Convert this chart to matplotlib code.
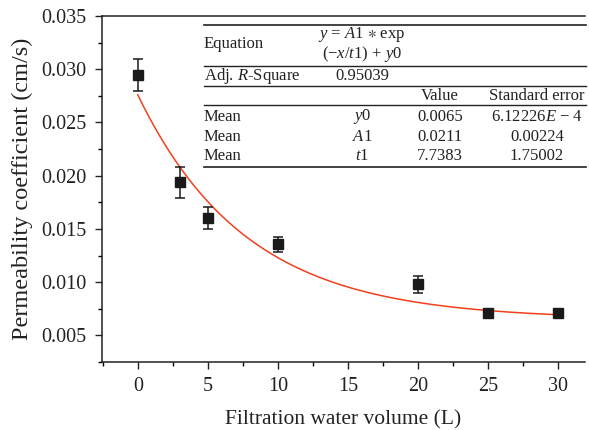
import numpy as np
import matplotlib
matplotlib.use('Agg')
import matplotlib.pyplot as plt
from matplotlib.lines import Line2D
from matplotlib.ticker import MultipleLocator

# measured data
volume = [0, 3, 5, 10, 20, 25, 30]
perm = [0.02945, 0.01940, 0.01600, 0.01355, 0.00980, 0.00710, 0.00710]
perm_err = [0.00150, 0.00145, 0.00105, 0.00070, 0.00080, 0.00010, 0.00010]

# fit parameters  y = A1*exp(-x/t1) + y0
y0 = 0.0065
A1 = 0.0211
t1 = 7.7383

table_rows = [("Mean", "$y0$", "0.0065", "6.12226$E$ − 4"),
              ("Mean", "$A1$", "0.0211", "0.00224"),
              ("Mean", "$t1$", "7.7383", "1.75002")]

plt.rcParams['font.family'] = ['Liberation Serif', 'DejaVu Serif']
plt.rcParams['mathtext.fontset'] = 'custom'
plt.rcParams['mathtext.it'] = 'Liberation Serif:italic'
plt.rcParams['mathtext.rm'] = 'Liberation Serif'
plt.rcParams['mathtext.fallback'] = 'stix'

W, H = 589, 430
fig = plt.figure(figsize=(W / 100, H / 100), dpi=100)
ax = fig.add_axes([102 / W, 1 - 362 / H, (585 - 102) / W, (362 - 16) / H])

xs = np.linspace(0, 30, 300)
ax.plot(xs, A1 * np.exp(-xs / t1) + y0, color='#f2401e', lw=1.1, zorder=2)
ax.errorbar(volume, perm, yerr=perm_err, fmt='s', color='#1a1a1a', ms=7,
            capsize=3.5, elinewidth=1.1, capthick=1.1, zorder=3)

ax.set_xlim(-2.55, 31.9)
ax.set_ylim(0.0025, 0.035)
ax.xaxis.set_major_locator(MultipleLocator(5))
ax.xaxis.set_minor_locator(MultipleLocator(2.5))
ax.yaxis.set_major_locator(MultipleLocator(0.005))
ax.yaxis.set_minor_locator(MultipleLocator(0.0025))
ax.yaxis.set_major_formatter(matplotlib.ticker.FormatStrFormatter('%.3f'))
ax.tick_params(which='major', direction='out', length=5, width=1, labelsize=14.5,
               colors='#222222', pad=6)
ax.tick_params(which='minor', direction='out', length=3, width=1)
ax.tick_params(top=False, right=False)
ax.spines['right'].set_visible(False)
for s in ('left', 'bottom', 'top'):
    ax.spines[s].set_linewidth(1.1)
    ax.spines[s].set_color('#222222')

ax.set_xlabel('Filtration water volume (L)', fontsize=15.5, color='#222222', labelpad=10)
ax.set_ylabel('Permeability coefficient (cm/s)', fontsize=17.5, color='#222222', labelpad=6)


def fx(px):
    return px / W


def fy(py):
    return 1 - py / H


# table lines
tl, tr = 204, 586
for py, lw in [(25, 1.2), (65.5, 1.0), (85.5, 1.0), (104.5, 1.0), (166.5, 1.2)]:
    fig.add_artist(Line2D([fx(tl), fx(tr)], [fy(py), fy(py)], color='#222222', lw=lw))

fs = 12
tc = '#222222'
c2, c3, c4 = 362, 440, 537
fig.text(fx(tl), fy(44), "Equation", fontsize=fs, color=tc, va='center')
fig.text(fx(c2), fy(34), "$y$ = $A1$ $\\ast$ exp", fontsize=fs, color=tc, va='center', ha='center')
fig.text(fx(c2), fy(54), "(−$x$/$t1$) + $y0$", fontsize=fs, color=tc, va='center', ha='center')
fig.text(fx(tl), fy(75.5), "Adj. $R$-Square", fontsize=fs, color=tc, va='center')
fig.text(fx(c2), fy(75.5), "0.95039", fontsize=fs, color=tc, va='center', ha='center')
fig.text(fx(c3), fy(95.5), "Value", fontsize=fs, color=tc, va='center', ha='center')
fig.text(fx(c4), fy(95.5), "Standard error", fontsize=fs, color=tc, va='center', ha='center')
for i, (a, b, c, d) in enumerate(table_rows):
    py = 117 + i * 19.5
    fig.text(fx(tl), fy(py), a, fontsize=fs, color=tc, va='center')
    fig.text(fx(c2), fy(py), b, fontsize=fs, color=tc, va='center', ha='center')
    fig.text(fx(c3), fy(py), c, fontsize=fs, color=tc, va='center', ha='center')
    fig.text(fx(c4), fy(py), d, fontsize=fs, color=tc, va='center', ha='center')

fig.savefig('out.png', dpi=100)
